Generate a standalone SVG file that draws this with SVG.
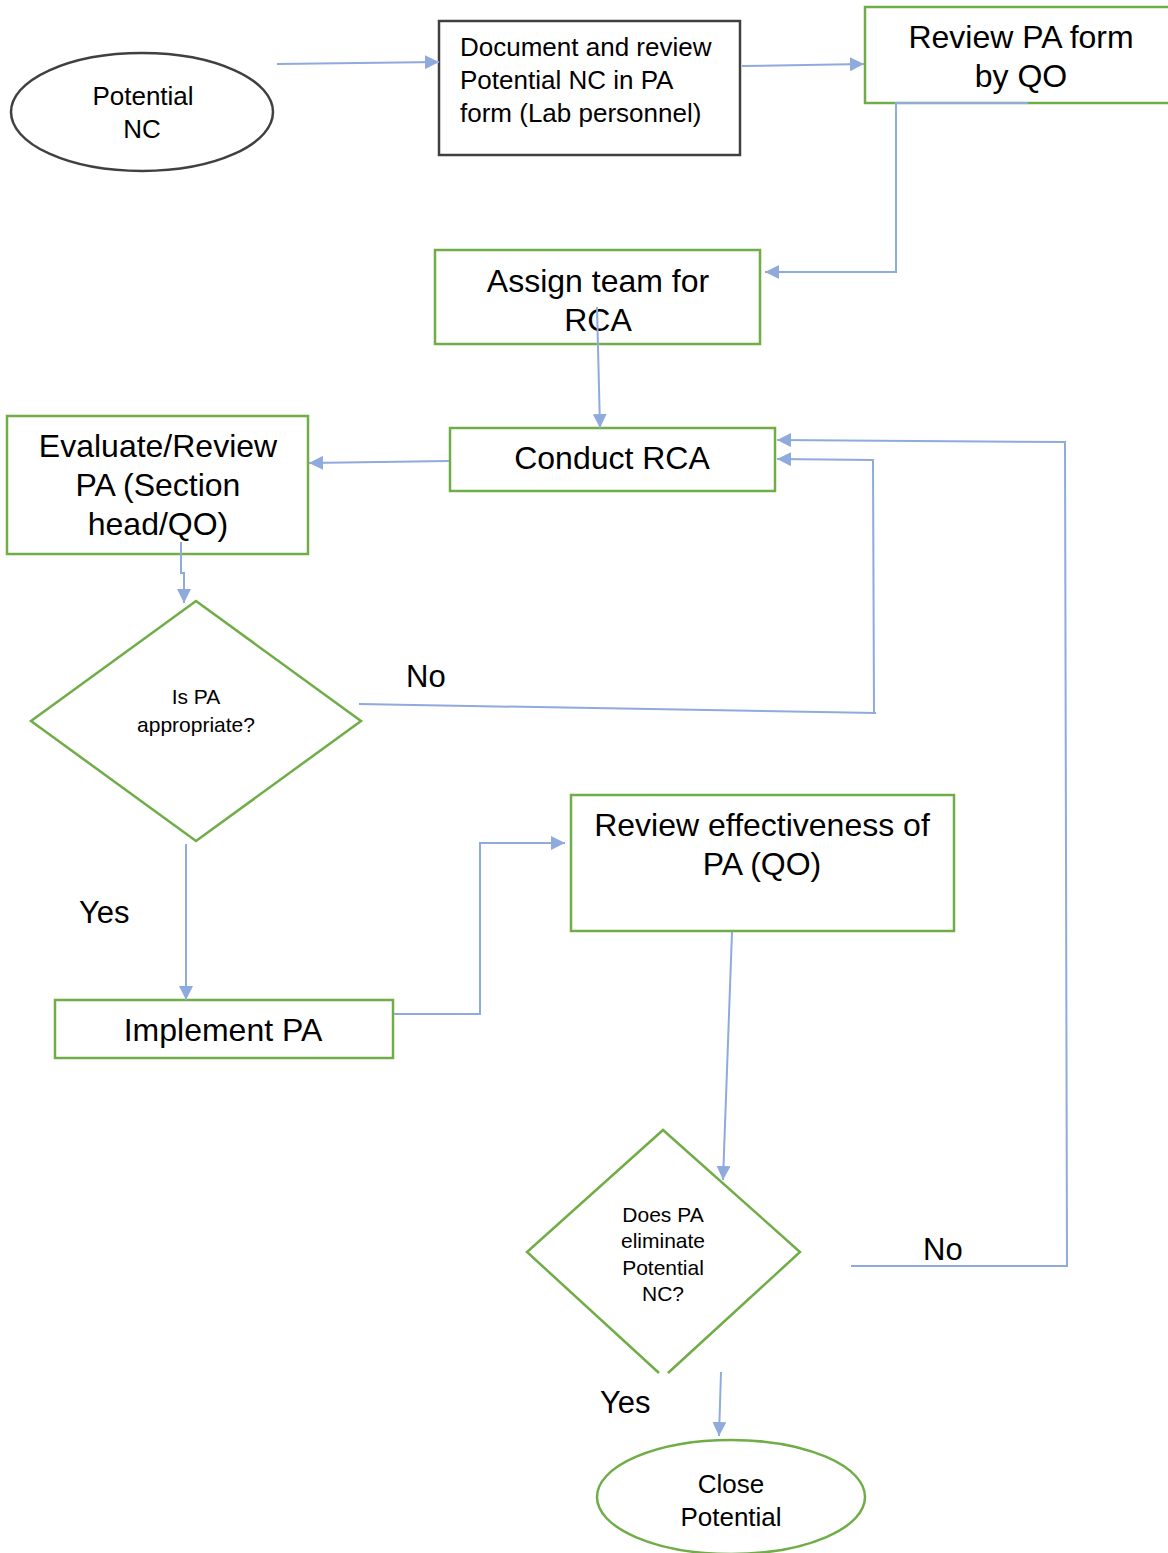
<svg xmlns="http://www.w3.org/2000/svg" width="1168" height="1553" viewBox="0 0 1168 1553">
<style>
.t{font-family:"Liberation Sans",Arial,sans-serif;fill:#000}
.g{fill:#fff;stroke:#70AD47;stroke-width:2.5}
.k{fill:#fff;stroke:#404040;stroke-width:2.5}
.c{fill:none;stroke:#8FAADC;stroke-width:2}
</style>
<defs>
<marker id="a" viewBox="0 0 10 10" refX="10" refY="5" markerWidth="7" markerHeight="7" orient="auto" markerUnits="strokeWidth">
<path d="M0,0 L10,5 L0,10 z" fill="#8FAADC"/>
</marker>
</defs>
<rect width="1168" height="1553" fill="#fff"/>

<g id="n-potential">
<ellipse class="k" cx="142" cy="112" rx="131" ry="59"/>
<text class="t" font-size="26" text-anchor="middle"><tspan x="143" y="105">Potential</tspan><tspan x="142" y="138">NC</tspan></text>
</g>
<g id="n-document">
<rect class="k" x="439" y="21" width="301" height="134" stroke-width="3"/>
<text class="t" font-size="26"><tspan x="460" y="56">Document and review</tspan><tspan x="460" y="89">Potential NC in PA</tspan><tspan x="460" y="122">form (Lab personnel)</tspan></text>
</g>
<g id="n-reviewqo">
<rect class="g" x="865" y="7" width="310" height="96"/>
<text class="t" font-size="32" text-anchor="middle"><tspan x="1021" y="48">Review PA form</tspan><tspan x="1021" y="87">by QO</tspan></text>
</g>
<g id="n-assign">
<rect class="g" x="435" y="250" width="325" height="94"/>
<text class="t" font-size="32" text-anchor="middle"><tspan x="598" y="292">Assign team for</tspan><tspan x="598" y="331">RCA</tspan></text>
</g>
<g id="n-conduct">
<rect class="g" x="450" y="428" width="325" height="63"/>
<text class="t" font-size="32" text-anchor="middle" x="612" y="469">Conduct RCA</text>
</g>
<g id="n-evaluate">
<rect class="g" x="7" y="416" width="301" height="138"/>
<text class="t" font-size="32" text-anchor="middle"><tspan x="158" y="457">Evaluate/Review</tspan><tspan x="158" y="496">PA (Section</tspan><tspan x="158" y="535">head/QO)</tspan></text>
</g>
<g id="n-ispa">
<polygon class="g" points="196,601 361,721 196,841 31,721"/>
<text class="t" font-size="21" text-anchor="middle"><tspan x="196" y="704">Is PA</tspan><tspan x="196" y="732">appropriate?</tspan></text>
</g>
<g id="n-implement">
<rect class="g" x="55" y="1000" width="338" height="58"/>
<text class="t" font-size="32" text-anchor="middle" x="223" y="1041">Implement PA</text>
</g>
<g id="n-effect">
<rect class="g" x="571" y="795" width="383" height="136"/>
<text class="t" font-size="32" text-anchor="middle"><tspan x="762" y="836">Review effectiveness of</tspan><tspan x="762" y="875">PA (QO)</tspan></text>
</g>
<g id="n-does">
<path class="g" fill="none" d="M659,1373 L527,1252 L663,1130 L800,1252 L668,1373"/>
<text class="t" font-size="21" text-anchor="middle"><tspan x="663" y="1222">Does PA</tspan><tspan x="663" y="1248">eliminate</tspan><tspan x="663" y="1275">Potential</tspan><tspan x="663" y="1301">NC?</tspan></text>
</g>
<g id="n-close">
<ellipse class="g" cx="731" cy="1497" rx="134" ry="57"/>
<text class="t" font-size="26" text-anchor="middle"><tspan x="731" y="1493">Close</tspan><tspan x="731" y="1526">Potential</tspan></text>
</g>

<g id="connectors">
<path class="c" d="M277,64 L439,62" marker-end="url(#a)"/>
<path class="c" d="M742,66 L864,64" marker-end="url(#a)"/>
<path class="c" d="M1028,103 L896,103 L896,272 L765,272" marker-end="url(#a)"/>
<path class="c" d="M597,307 L600,428" marker-end="url(#a)"/>
<path class="c" d="M449,461 L309,463" marker-end="url(#a)"/>
<path class="c" d="M181,542 L181,573 L184,573 L184,603" marker-end="url(#a)"/>
<path class="c" d="M359,704 L876,713 M874,713 L873,460 L777,459" marker-end="url(#a)"/>
<path class="c" d="M186,844 L186,1000" marker-end="url(#a)"/>
<path class="c" d="M394,1014 L480,1014 L480,843 L565,843" marker-end="url(#a)"/>
<path class="c" d="M732,932 L723,1180" marker-end="url(#a)"/>
<path class="c" d="M851,1266 L1067,1266 L1065,442 L777,440" marker-end="url(#a)"/>
<path class="c" d="M721,1372 L719,1436" marker-end="url(#a)"/>
</g>

<g id="labels">
<text class="t" font-size="31" x="406" y="687">No</text>
<text class="t" font-size="31" x="79" y="923">Yes</text>
<text class="t" font-size="31" x="923" y="1260">No</text>
<text class="t" font-size="31" x="600" y="1413">Yes</text>
</g>
</svg>
